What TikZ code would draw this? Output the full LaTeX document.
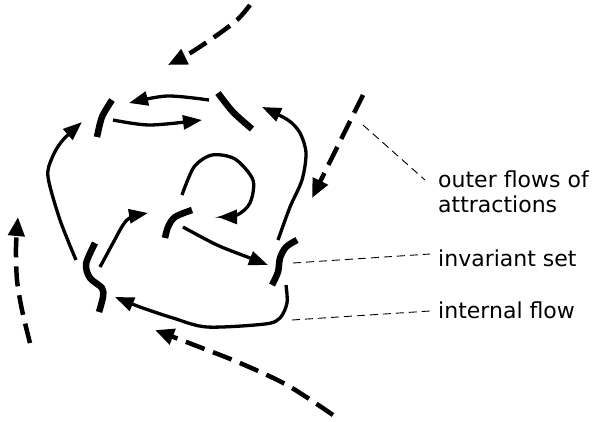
\documentclass[tikz,border=0pt]{standalone}
\usepackage{fontspec}
\setmainfont{DejaVu Sans}
\usetikzlibrary{arrows.meta}
\tikzset{
  flow/.style={line width=3.3pt, -{Triangle[length=19pt,width=14pt]}},
  inv/.style={line width=6.5pt},
  outer/.style={line width=4.5pt, dash pattern=on 20pt off 9pt, -{Triangle[length=19pt,width=16pt]}},
  leader/.style={line width=0.9pt, dash pattern=on 8pt off 5pt},
  lbl/.style={anchor=base west, inner sep=0pt, font=\fontsize{22}{26}\selectfont}
}
\begin{document}
\begin{tikzpicture}[x=1pt,y=-1pt]
\useasboundingbox (0,0) rectangle (596,421);
% outer flows (dashed)
\draw[outer] plot[smooth] coordinates {(250,5) (237,20) (213,38) (187,55) (168,65)};
\draw[outer] (363,95) -- (312,198);
\draw[outer] plot[smooth] coordinates {(333,415) (287,385) (240,363) (202,348) (155,330)};
\draw[outer] plot[smooth] coordinates {(30,343) (22,310) (17,280) (16,247) (18,217)};
% invariant set pieces
\draw[inv] plot[smooth] coordinates {(112,100) (102,117) (97,137)};
\draw[inv] plot[smooth] coordinates {(218,93) (233,112) (252,129)};
\draw[inv] plot[smooth] coordinates {(192,210) (175,217) (168,227) (165,238)};
\draw[inv] plot[smooth] coordinates {(297,240) (286,247) (280,258) (278,272) (272,285)};
\draw[inv] plot[smooth] coordinates {(95,243) (86,264) (90,278) (102,288) (103,297) (99,312)};
% internal flows
\draw[flow] plot[smooth] coordinates {(209,100) (167,96) (129,103)};
\draw[flow] plot[smooth] coordinates {(113,120) (150,125) (202,120)};
\draw[flow] plot[smooth] coordinates {(76,260) (60,220) (48,177) (52,158) (62,141) (82,122)};
\draw[flow] plot[smooth] coordinates {(278,240) (290,207) (302,180) (306,153) (300,133) (288,120) (262,107)};
\draw[flow] plot[smooth] coordinates {(182,195) (194,167) (212,155) (235,159) (253,180) (250,203) (237,215) (218,217)};
\draw[flow] plot[smooth] coordinates {(183,227) (217,245) (250,258) (268,265)};
\draw[flow] plot[smooth] coordinates {(100,267) (113,243) (123,225) (131,217) (148,213)};
\draw[flow] plot[smooth] coordinates {(286,285) (287,303) (280,318) (265,324) (207,327) (173,318) (140,307) (115,297)};
% labels
\node[lbl] (t1) at (438,187) {outer flows of};
\node[lbl] (t2) at (438,212) {attractions};
\node[lbl] (t3) at (438,266) {invariant set};
\node[lbl] (t4) at (438,318) {internal flow};
% leader lines
\coordinate (l1a) at (363,125); \coordinate (l1b) at (425,180);
\coordinate (l3a) at (293,263); \coordinate (l3b) at (430,254);
\coordinate (l4a) at (292,320); \coordinate (l4b) at (430,311);
\draw[leader] (l1a) -- (l1b);
\draw[leader] (l3a) -- (l3b);
\draw[leader] (l4a) -- (l4b);
\end{tikzpicture}
\end{document}
